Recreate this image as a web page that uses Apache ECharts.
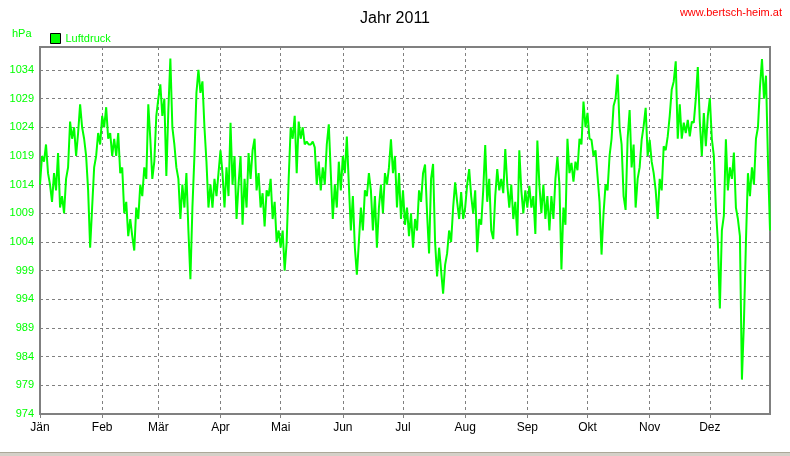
<!DOCTYPE html>
<html><head><meta charset="utf-8">
<script src="https://cdn.jsdelivr.net/npm/echarts@6/dist/echarts.min.js"></script>
<style>html,body{margin:0;padding:0;background:#fff}#c{width:790px;height:456px}</style>
</head><body><div id="c"></div>
<script>
const monthNames = ['Jän','Feb','Mär','Apr','Mai','Jun','Jul','Aug','Sep','Okt','Nov','Dez'];
const jan = [1014,1019,1018,1021,1016,1014,1011,1016,1013,1019.5,1010,1012,1009,1015,1017,1025,1022,1024,1019,1023,1028,1024,1022,1019,1013,1003,1010,1017,1019,1023,1021];
const feb = [1026,1024,1027.5,1022,1023,1019,1022,1019,1023,1016,1017,1009,1011,1005,1008,1005,1002.5,1010,1008,1014,1012,1017,1015,1028,1022,1015,1018,1026];
const mar = [1029,1031.5,1026,1029,1015.5,1027,1036,1024,1021,1017,1015,1008,1014,1010,1016,1006,997.5,1010,1019,1030,1034,1030,1032,1024,1018,1010,1014,1010,1015,1012,1016];
const apr = [1020,1016,1010,1017,1012,1024.8,1014,1019,1008,1014,1019,1007,1015,1010,1019.5,1015,1020,1022,1013,1016,1010,1012.5,1006.7,1013,1012,1015,1008,1011,1004,1006];
const mai = [1003,1006,999,1004,1015,1024,1022,1026,1016,1025,1022,1024,1021,1021.5,1021,1021,1021.5,1020.5,1014,1018,1013,1017,1014,1021,1024.5,1016,1008,1014,1010,1018,1013];
const jun = [1019,1016,1022.4,1014,1006,1012,1003,998.3,1004,1010,1006,1013,1012,1016,1013,1006,1012,1003,1010,1014,1009,1016,1014,1017,1021.9,1016,1019,1010,1016,1008];
const jul = [1013,1007,1010,1005,1009,1003,1008,1006,1013,1011,1016,1017.5,1009,1002,1015,1017.6,1004,998,1003,999,995,1000,1002,1006,1004,1010,1014.4,1011,1008,1012.7,1008];
const aug = [1010,1014,1016.7,1012,1009,1013,1002.2,1008,1007,1013,1020.9,1011,1015,1006,1004.5,1012,1016.7,1013,1015,1012.5,1020.2,1014,1010,1014,1008,1011,1005.1,1020,1013,1009,1013];
const sep = [1010,1013.8,1010,1012,1005.4,1021.7,1014,1009,1014,1008,1012,1006,1012,1008,1015,1018.8,1014,999.2,1010,1007,1022,1016,1017.8,1014.5,1018,1016.5,1022,1021,1028.5,1024];
const okt = [1026.5,1022,1021.8,1019,1020,1015.5,1011,1001.8,1009,1014,1013,1019,1022,1027.7,1029,1033.2,1024,1021,1012,1009.6,1022,1027,1017,1021,1010,1015,1017,1021.8,1024.2,1027.4,1019];
const nov = [1021.8,1018,1016,1013,1008,1015,1013,1020.7,1020,1022.4,1026,1030.6,1032,1035.5,1022,1028,1022,1024.8,1023,1025.3,1022.4,1025,1024.8,1029,1034.5,1025,1019,1026.5,1020.7,1026];
const dez = [1029.1,1022,1019,1010,1004,992.4,1006,1008.6,1021.9,1013,1017,1015,1019.6,1010,1008,1005,980,990,1004,1016,1012,1017,1014,1022,1024,1031,1035.9,1029,1033,1018,1006];

const yBase = 974, yTop = 1038, yStep = 5;
const months = [jan,feb,mar,apr,mai,jun,jul,aug,sep,okt,nov,dez];

const categories = [], values = [], monthStart = new Set();
months.forEach((arr, m) => {
  monthStart.add(categories.length);
  arr.forEach((v, i) => { categories.push((i + 1) + '. ' + monthNames[m]); values.push(+(v - yBase).toFixed(2)); });
});
const isStart = (i) => monthStart.has(i);
const FONT = 'Liberation Sans, Arial, sans-serif';

const chart = echarts.init(document.getElementById('c'), null, {renderer: 'canvas'});
chart.setOption({
  animation: false,
  backgroundColor: '#ffffff',
  title: {text: 'Jahr 2011', left: 'center', top: 6,
    textStyle: {fontFamily: FONT, fontSize: 16, fontWeight: 'normal', color: '#000'}},
  legend: {data: ['Luftdruck'], left: 50, top: 33, padding: 0, itemWidth: 10, itemHeight: 10, icon: 'rect',
    itemStyle: {borderColor: '#000', borderWidth: 1},
    textStyle: {color: '#00ff00', fontSize: 11, fontFamily: FONT}},
  grid: {left: 40, top: 47, width: 730, height: 367, show: true, borderColor: '#808080', borderWidth: 2},
  xAxis: {type: 'category', data: categories, boundaryGap: false,
    axisLine: {show: false},
    axisTick: {show: true, interval: isStart, length: 4, lineStyle: {color: '#808080'}},
    axisLabel: {interval: isStart, formatter: (v) => v.split(' ')[1], color: '#000', fontSize: 12, fontFamily: FONT, margin: 8},
    splitLine: {show: true, interval: isStart, lineStyle: {color: '#808080', type: [3, 3], width: 1}}},
  yAxis: {type: 'value', min: 0, max: yTop - yBase, interval: yStep,
    axisLine: {show: false}, axisTick: {show: false},
    axisLabel: {formatter: (v) => String(v + yBase), showMaxLabel: false, color: '#00ff00', fontSize: 11, fontFamily: FONT, margin: 6},
    splitLine: {lineStyle: {color: '#808080', type: [3, 3], width: 1}}},
  series: [{name: 'Luftdruck', type: 'line', data: values, symbol: 'none', showSymbol: false,
    lineStyle: {color: '#00ff00', width: 2}, itemStyle: {color: '#00ff00'}}],
  graphic: [
    {type: 'text', left: 12, top: 28, style: {text: 'hPa', fill: '#00ff00', font: '11px ' + FONT}},
    {type: 'text', right: 8, top: 7, style: {text: 'www.bertsch-heim.at', fill: '#ff0000', font: '11px ' + FONT}},
    {type: 'rect', shape: {x: 0, y: 452, width: 790, height: 4}, style: {fill: '#d4d0c8'}},
    {type: 'line', shape: {x1: 0, y1: 452.5, x2: 790, y2: 452.5}, style: {stroke: '#aca899', lineWidth: 1}}
  ]
});
</script></body></html>
